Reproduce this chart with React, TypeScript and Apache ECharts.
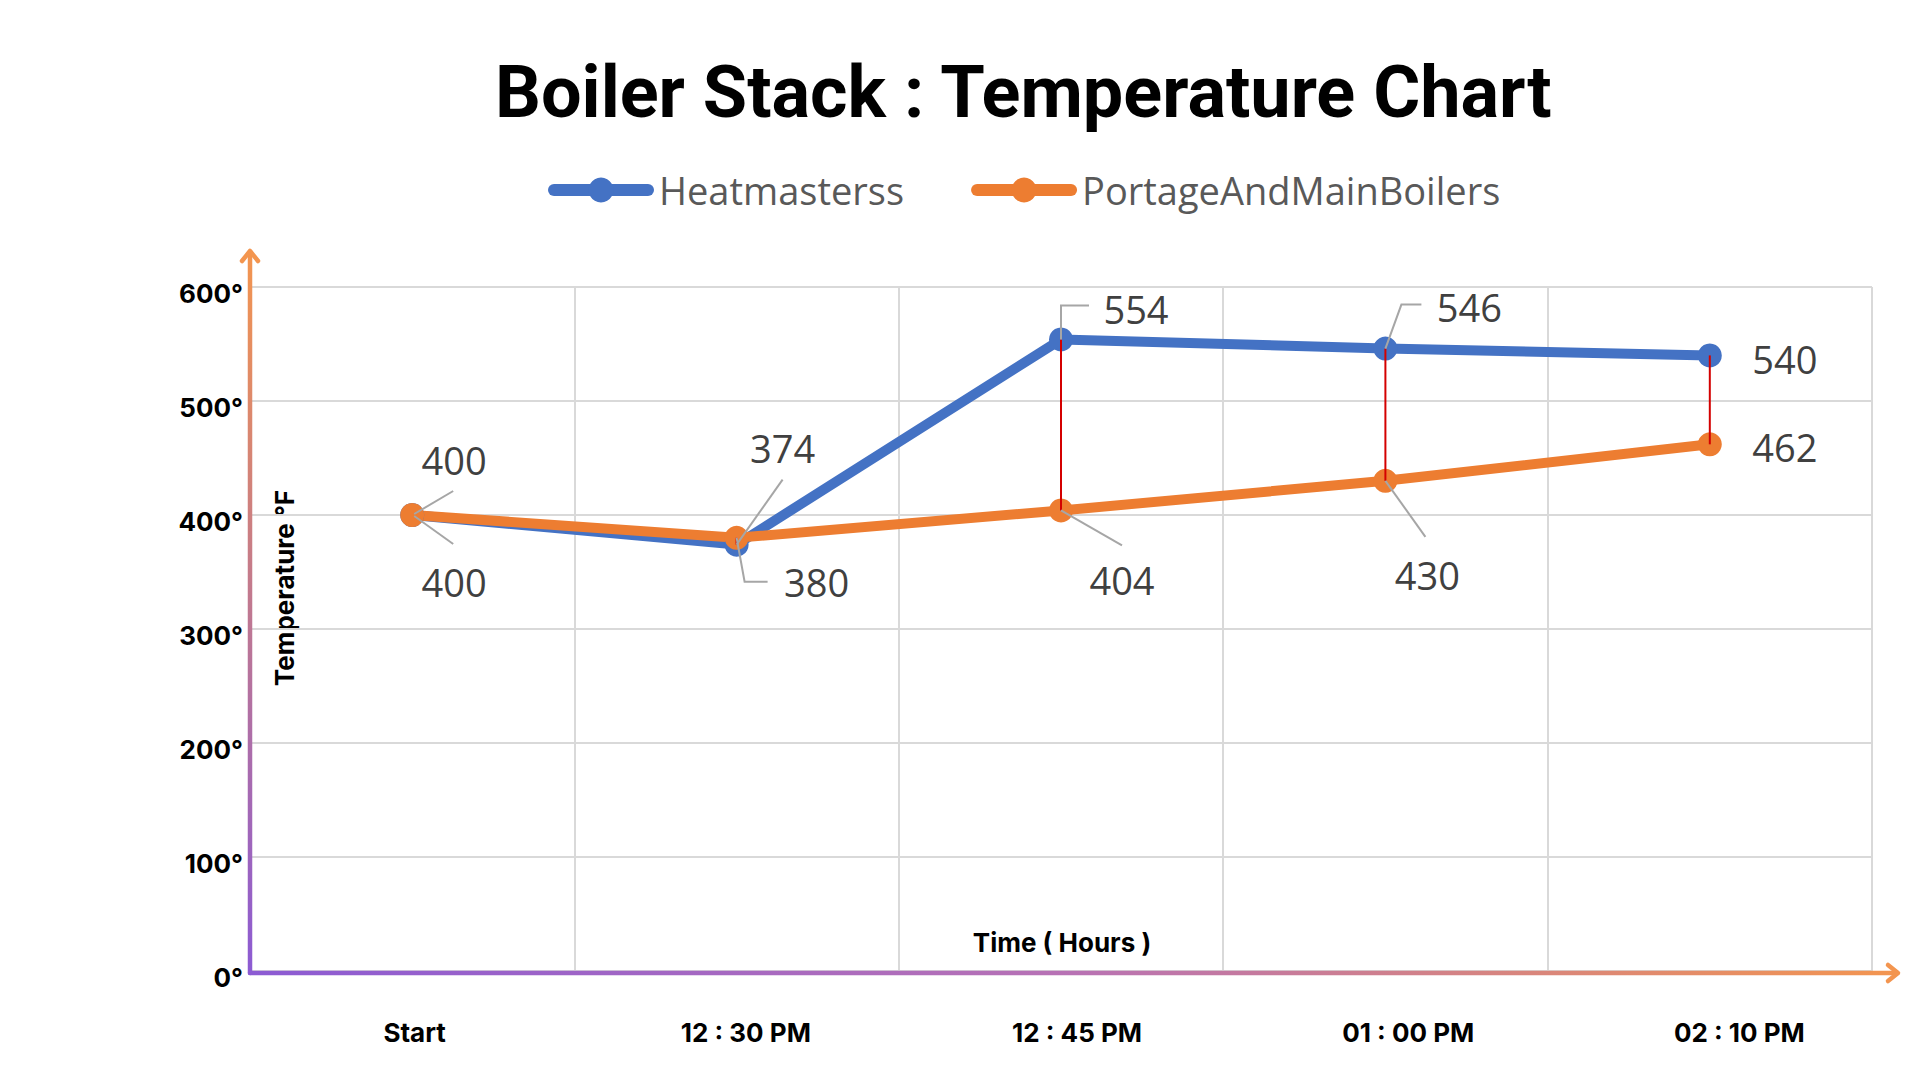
import React, { useEffect, useRef } from "react";
import * as echarts from "echarts";

const chartTitle = "Boiler Stack : Temperature Chart";
const categories = ["Start", "12 : 30 PM", "12 : 45 PM", "01 : 00 PM", "02 : 10 PM"];
const seriesNames = ["Heatmasterss", "PortageAndMainBoilers"];
const heatmasters = [400, 374, 554, 546, 540];
const portage = [400, 380, 404, 430, 462];
const yMin = 0;
const yMax = 600;
const yInterval = 100;
const yAxisTitle = "Temperature °F";
const xAxisTitle = "Time ( Hours )";

// label placement (pixel offsets from the point, style only)
type LabelPos = { dx: number; dy: number; leader: number[][] };
const heatLabelPos: LabelPos[] = [
  { dx: 42, dy: -55, leader: [[2, -1], [41, -24]] },
  { dx: 46, dy: -97, leader: [[0, 0], [46, -65]] },
  { dx: 75, dy: -30, leader: [[0, 0], [0, -34], [28, -34]] },
  { dx: 84, dy: -42, leader: [[0, 0], [16, -44], [36, -44]] },
  { dx: 75, dy: 4, leader: [] },
];
const portageLabelPos: LabelPos[] = [
  { dx: 42, dy: 67, leader: [[2, 1], [41, 29]] },
  { dx: 80, dy: 44, leader: [[0, 0], [8, 44], [31, 44]] },
  { dx: 61, dy: 70, leader: [[0, 0], [61, 35]] },
  { dx: 42, dy: 94, leader: [[0, 0], [40, 56]] },
  { dx: 75, dy: 3, leader: [] },
];

const BLUE = "#4472C4";
const ORANGE = "#ED7D31";
const PURPLE = "#8C5BD3";
const AXIS_ORANGE = "#F3954F";

// layout
const W = 1920;
const H = 1080;
const G_LEFT = 250;
const G_RIGHT = 48;
const G_TOP = 287;
const G_BOTTOM = 109;
const AXIS_Y = H - G_BOTTOM;

function labelSeries(values: number[], pos: LabelPos[]) {
  return {
    type: "custom",
    xAxisIndex: 0,
    yAxisIndex: 0,
    z: 5,
    silent: true,
    data: values.map((v, i) => [i, v]),
    encode: { x: 0, y: 1 },
    renderItem: (params: any, api: any) => {
      const i = params.dataIndex;
      const p = api.coord([api.value(0), api.value(1)]);
      const lp = pos[i];
      const children: any[] = [];
      if (lp.leader.length > 1) {
        children.push({
          type: "polyline",
          shape: { points: lp.leader.map((q) => [p[0] + q[0], p[1] + q[1]]) },
          style: { stroke: "#A6A6A6", lineWidth: 2, fill: "none" },
        });
      }
      children.push({
        type: "text",
        x: p[0] + lp.dx,
        y: p[1] + lp.dy,
        style: {
          text: String(api.value(1)),
          fill: "#404040",
          fontFamily: "Open Sans",
          fontSize: 38,
          align: "center",
          verticalAlign: "middle",
        },
      });
      return { type: "group", children };
    },
  };
}

export default function App() {
  const ref = useRef<HTMLDivElement>(null);

  useEffect(() => {
    if (!ref.current) return;
    const chart = echarts.init(ref.current, undefined, { renderer: "svg" });

    const lineSeries = (name: string, data: number[], color: string) => ({
      name,
      type: "line",
      data,
      xAxisIndex: 0,
      yAxisIndex: 0,
      symbol: "circle",
      symbolSize: 24,
      z: 2,
      itemStyle: { color },
      lineStyle: { color, width: 10, cap: "round", join: "round" },
      emphasis: { disabled: true },
    });

    const option: any = {
      animation: false,
      backgroundColor: "#ffffff",
      title: {
        text: chartTitle,
        left: 490,
        top: 51,
        textStyle: { fontFamily: "Roboto", fontWeight: "bold", fontSize: 72, color: "#000000" },
      },
      legend: {
        data: seriesNames,
        left: 548,
        top: 171,
        padding: 0,
        itemWidth: 94,
        itemHeight: 31,
        itemGap: 67,
        lineStyle: { width: 12, cap: "round" },
        textStyle: {
          fontFamily: "Open Sans",
          fontSize: 38,
          color: "#595959",
          padding: [0, 0, 0, 6],
        },
      },
      grid: [
        { left: G_LEFT, right: G_RIGHT, top: G_TOP, bottom: G_BOTTOM },
        { left: 249, right: 15, top: G_TOP, bottom: G_BOTTOM },
      ],
      xAxis: [
        {
          type: "category",
          gridIndex: 0,
          data: categories,
          boundaryGap: true,
          axisLine: { show: false },
          axisTick: { show: false },
          axisLabel: { show: false },
          splitLine: { show: true, lineStyle: { color: "#D9D9D9", width: 2 } },
        },
        {
          type: "category",
          gridIndex: 1,
          data: categories,
          boundaryGap: true,
          axisLine: { show: false },
          axisTick: { show: false },
          splitLine: { show: false },
          axisLabel: {
            margin: 48,
            fontFamily: "Inter",
            fontWeight: "bold",
            fontSize: 26,
            color: "#000000",
          },
        },
      ],
      yAxis: [
        {
          type: "value",
          gridIndex: 0,
          min: yMin,
          max: yMax,
          interval: yInterval,
          axisLine: { show: false },
          axisTick: { show: false },
          axisLabel: {
            formatter: "{value}°",
            margin: 7,
            verticalAlign: "top",
            lineHeight: 12,
            fontFamily: "Inter",
            fontWeight: "bold",
            fontSize: 26,
            color: "#000000",
          },
          splitLine: { show: true, lineStyle: { color: "#D9D9D9", width: 2 } },
        },
        {
          type: "value",
          gridIndex: 1,
          min: yMin,
          max: yMax,
          show: false,
        },
      ],
      series: [
        lineSeries(seriesNames[0], heatmasters, BLUE),
        lineSeries(seriesNames[1], portage, ORANGE),
        {
          type: "custom",
          xAxisIndex: 0,
          yAxisIndex: 0,
          z: 4,
          silent: true,
          data: categories.map((_, i) => [i, heatmasters[i], portage[i]]),
          encode: { x: 0, y: [1, 2] },
          renderItem: (_params: any, api: any) => {
            const a = api.coord([api.value(0), api.value(1)]);
            const b = api.coord([api.value(0), api.value(2)]);
            return {
              type: "line",
              shape: { x1: a[0], y1: a[1], x2: b[0], y2: b[1] },
              style: { stroke: "#D40000", lineWidth: 2 },
            };
          },
        },
        labelSeries(heatmasters, heatLabelPos),
        labelSeries(portage, portageLabelPos),
      ],
      graphic: [
        {
          type: "line",
          z: 10,
          shape: { x1: G_LEFT, y1: AXIS_Y + 2, x2: G_LEFT, y2: 252 },
          style: {
            lineWidth: 4.5,
            lineCap: "round",
            stroke: new echarts.graphic.LinearGradient(0, AXIS_Y, 0, 252, [
              { offset: 0, color: PURPLE },
              { offset: 1, color: AXIS_ORANGE },
            ], true),
          },
        },
        {
          type: "polyline",
          z: 10,
          shape: { points: [[G_LEFT - 8, 261], [G_LEFT, 251], [G_LEFT + 8, 261]] },
          style: { stroke: AXIS_ORANGE, lineWidth: 4.5, fill: "none", lineCap: "round", lineJoin: "round" },
        },
        {
          type: "line",
          z: 10,
          shape: { x1: G_LEFT, y1: AXIS_Y + 2, x2: 1897, y2: AXIS_Y + 2 },
          style: {
            lineWidth: 4.5,
            lineCap: "round",
            stroke: new echarts.graphic.LinearGradient(G_LEFT, 0, 1897, 0, [
              { offset: 0, color: PURPLE },
              { offset: 0.5, color: "#B872B4" },
              { offset: 1, color: AXIS_ORANGE },
            ], true),
          },
        },
        {
          type: "polyline",
          z: 10,
          shape: { points: [[1888, AXIS_Y - 6], [1898, AXIS_Y + 2], [1888, AXIS_Y + 10]] },
          style: { stroke: AXIS_ORANGE, lineWidth: 4.5, fill: "none", lineCap: "round", lineJoin: "round" },
        },
        {
          type: "text",
          x: 284,
          y: 588,
          rotation: Math.PI / 2,
          style: {
            text: yAxisTitle,
            fontFamily: "Inter",
            fontWeight: "bold",
            fontSize: 26,
            fill: "#000000",
            align: "center",
            verticalAlign: "middle",
          },
        },
        {
          type: "text",
          x: 1062,
          y: 942,
          style: {
            text: xAxisTitle,
            fontFamily: "Inter",
            fontWeight: "bold",
            fontSize: 26,
            fill: "#000000",
            align: "center",
            verticalAlign: "middle",
          },
        },
      ],
    };

    chart.setOption(option);
    return () => chart.dispose();
  }, []);

  return (
    <div
      ref={ref}
      style={{ position: "fixed", left: 0, top: 0, width: W, height: H, background: "#ffffff" }}
    />
  );
}
